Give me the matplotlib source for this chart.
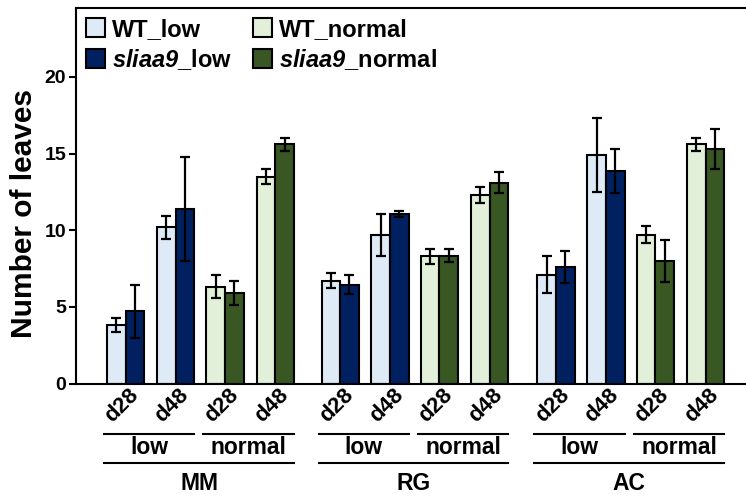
import matplotlib
matplotlib.use("Agg")
import matplotlib.pyplot as plt
import matplotlib.transforms as mtransforms
import numpy as np

plt.rcParams['font.family'] = ['Liberation Sans', 'DejaVu Sans']
plt.rcParams['font.weight'] = 'bold'
plt.rcParams['mathtext.fontset'] = 'custom'
plt.rcParams['mathtext.bfit'] = 'Liberation Sans:italic:bold'
plt.rcParams['mathtext.it'] = 'Liberation Sans:italic:bold'
plt.rcParams['mathtext.rm'] = 'Liberation Sans:bold'

groups = ["MM", "RG", "AC"]
conditions = ["low", "normal"]
days = ["d28", "d48"]
series = ["WT_low", "sliaa9_low", "WT_normal", "sliaa9_normal"]
legend_labels = ["WT_low", r"$\mathbfit{sliaa9}$_low", "WT_normal", r"$\mathbfit{sliaa9}$_normal"]
colors = ["#DEEBF7", "#002060", "#E2F0D9", "#385723"]

# per group: [low d28, low d48, normal d28, normal d48], WT then sliaa9
wt_vals = {
    "MM": [3.8, 10.2, 6.3, 13.5],
    "RG": [6.7, 9.7, 8.3, 12.3],
    "AC": [7.1, 14.9, 9.7, 15.6],
}
wt_err = {
    "MM": [0.45, 0.75, 0.75, 0.5],
    "RG": [0.5, 1.35, 0.5, 0.5],
    "AC": [1.2, 2.4, 0.55, 0.45],
}
sl_vals = {
    "MM": [4.7, 11.4, 5.9, 15.6],
    "RG": [6.45, 11.05, 8.35, 13.1],
    "AC": [7.6, 13.85, 8.0, 15.3],
}
sl_err = {
    "MM": [1.75, 3.4, 0.8, 0.45],
    "RG": [0.6, 0.2, 0.45, 0.7],
    "AC": [1.05, 1.45, 1.35, 1.3],
}

W, H = 746, 499
fig = plt.figure(figsize=(W / 100, H / 100), dpi=100)
ax_left, ax_right, ax_top, ax_bot = 76, 746, 8, 383.5
ax = fig.add_axes([ax_left / W, 1 - ax_bot / H, (ax_right - ax_left) / W, (ax_bot - ax_top) / H])

group_off = [0.0, 4.30, 8.63]
pair_off = [0.0, 1.0, 1.99, 3.0]
bw = 0.374
lw = 1.5

handles = {}
for gi, g in enumerate(groups):
    for pi in range(4):
        c = group_off[gi] + pair_off[pi]
        cond = pi // 2
        wt_color = colors[0] if cond == 0 else colors[2]
        sl_color = colors[1] if cond == 0 else colors[3]
        b1 = ax.bar(c - bw / 2, wt_vals[g][pi], bw, color=wt_color, edgecolor='black', linewidth=lw, zorder=2)
        b2 = ax.bar(c + bw / 2, sl_vals[g][pi], bw, color=sl_color, edgecolor='black', linewidth=lw, zorder=2)
        ax.errorbar(c - bw / 2, wt_vals[g][pi], yerr=wt_err[g][pi], fmt='none', ecolor='black',
                    elinewidth=1.6, capsize=3.6, capthick=1.6, zorder=3)
        ax.errorbar(c + bw / 2, sl_vals[g][pi], yerr=sl_err[g][pi], fmt='none', ecolor='black',
                    elinewidth=1.6, capsize=3.6, capthick=1.6, zorder=3)
        if cond == 0:
            handles.setdefault(0, b1); handles.setdefault(1, b2)
        else:
            handles.setdefault(2, b1); handles.setdefault(3, b2)

ax.set_xlim(-0.998, 12.44)
ax.set_ylim(0, 24.5)
ax.set_yticks([0, 5, 10, 15, 20])
ax.tick_params(axis='y', labelsize=14, width=1.5, length=5, pad=2)
ax.set_xticks([])
for s in ['left', 'bottom', 'top']:
    ax.spines[s].set_linewidth(1.5)
ax.spines['right'].set_visible(False)

trans = mtransforms.blended_transform_factory(ax.transData, ax.transAxes)
axh = ax_bot - ax_top
def yf(py):
    return (ax_bot - py) / axh

ax.set_ylabel("Number of leaves", fontsize=21.5, fontweight='bold')
ax.yaxis.set_label_coords(-0.056, yf(214))

for gi, g in enumerate(groups):
    for pi in range(4):
        c = group_off[gi] + pair_off[pi]
        ax.text(c + 0.2, yf(392), days[pi % 2], transform=trans, rotation=45,
                rotation_mode='anchor', ha='right', va='center', fontsize=16, fontweight='bold')
    for ci, cond in enumerate(conditions):
        x0 = group_off[gi] + pair_off[2 * ci] - bw - 0.06
        x1 = group_off[gi] + pair_off[2 * ci + 1] + bw
        ax.plot([x0, x1], [yf(434), yf(434)], transform=trans, color='black', lw=1.5, clip_on=False)
        ax.text((x0 + x1) / 2, yf(447), cond, transform=trans, ha='center', va='center',
                fontsize=16.5, fontweight='bold')
    x0 = group_off[gi] - bw - 0.06
    x1 = group_off[gi] + pair_off[3] + bw
    ax.plot([x0, x1], [yf(463), yf(463)], transform=trans, color='black', lw=1.5, clip_on=False)
    ax.text((x0 + x1) / 2, yf(483), g, transform=trans, ha='center', va='center',
            fontsize=16.5, fontweight='bold')

leg = ax.legend([handles[i] for i in range(4)], legend_labels, ncol=2, loc='upper left',
                bbox_to_anchor=(86 / W, 1 - 18 / H), bbox_transform=fig.transFigure,
                frameon=False, prop={'weight': 'bold', 'size': 17},
                handlelength=0.82, handleheight=0.85, handletextpad=0.3, columnspacing=0.85,
                labelspacing=0.25, borderpad=0, borderaxespad=0)

fig.savefig("out.png", dpi=100)
